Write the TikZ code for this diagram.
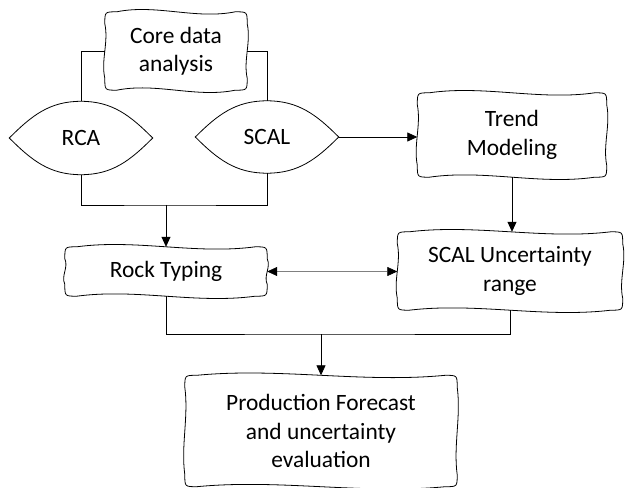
\documentclass[tikz,border=0pt]{standalone}
\usepackage{fontspec}
\setmainfont{Carlito}
\usetikzlibrary{arrows.meta,calc}
\newcommand\wavyframe[1]{%
\draw[wavy] let \p1=(#1.south west),\p2=(#1.north east),\n1={\x2-\x1-24pt},\n2={\y2-\y1-24pt} in
 ({\x1+12pt},\y2) .. controls ({\x1+12pt+\n1/3},{\y2+8pt}) and ({\x1+12pt+2*\n1/3},{\y2-8pt}) .. ({\x2-12pt},\y2)
 .. controls (\x2,\y2) .. (\x2,{\y2-12pt})
 .. controls ({\x2+4pt},{\y2-12pt-\n2/3}) and ({\x2-4pt},{\y2-12pt-2*\n2/3}) .. (\x2,{\y1+12pt})
 .. controls (\x2,\y1) .. ({\x2-12pt},\y1)
 .. controls ({\x2-12pt-\n1/3},{\y1-8pt}) and ({\x2-12pt-2*\n1/3},{\y1+8pt}) .. ({\x1+12pt},\y1)
 .. controls (\x1,\y1) .. (\x1,{\y1+12pt})
 .. controls ({\x1-4pt},{\y1+12pt+\n2/3}) and ({\x1+4pt},{\y1+12pt+2*\n2/3}) .. (\x1,{\y2-12pt})
 .. controls (\x1,\y2) .. ({\x1+12pt},\y2) -- cycle;}
\newcommand\lensframe[1]{%
\draw[wavy] (#1.west) to[out=45,in=180] (#1.north) to[out=0,in=135] (#1.east)
  to[out=-135,in=0] (#1.south) to[out=180,in=-45] (#1.west) -- cycle;}
\begin{document}
\begin{tikzpicture}[x=1bp,y=-1bp,
  box/.style={draw=none,rectangle,inner sep=0pt,align=center,font=\fontsize{23.5}{28.5}\selectfont},
  arr/.style={-{Triangle[length=10bp,width=9bp]}},
  conn/.style={line width=0.8bp,black},
  wavy/.style={line width=0.8bp,black}]
\useasboundingbox (0,0) rectangle (625,488);
\node[box,minimum width=142bp,minimum height=78bp] (core) at (176,51) {Core data\\analysis};
\node[box,minimum width=143bp,minimum height=73bp] (rca) at (81,138) {RCA};
\node[box,minimum width=143bp,minimum height=72bp] (scal) at (267,137) {SCAL};
\node[box,minimum width=189bp,minimum height=84bp] (trend) at (512,135) {Trend\\Modeling};
\node[box,minimum width=225bp,minimum height=78bp] (scalu) at (510,271) {SCAL Uncertainty\\range};
\node[box,minimum width=202bp,minimum height=49bp] (rock) at (166,271.5) {Rock Typing};
\node[box,minimum width=272bp,minimum height=111bp] (prod) at (321,431) {Production Forecast\\and uncertainty\\evaluation};
\wavyframe{core}
\wavyframe{trend}
\wavyframe{scalu}
\wavyframe{rock}
\wavyframe{prod}
\lensframe{rca}
\lensframe{scal}
\coordinate (j1) at (166,205);
\coordinate (j2) at (321,334);
\draw[conn] (core.west) -| (rca.north);
\draw[conn] (core.east) -| (scal.north);
\draw[conn] (rca.south) |- (j1) -| (scal.south);
\draw[conn,arr] (j1) -- (rock.north);
\draw[conn,arr] (scal.east) -- (scal.east -| trend.west);
\draw[conn,arr] (trend.south) -- (trend.south |- scalu.north);
\draw[line width=0.6bp,draw=gray,{Triangle[length=10bp,width=9bp,color=black]}-{Triangle[length=10bp,width=9bp,color=black]}] (rock.east) -- (rock.east -| scalu.west);
\draw[conn] (rock.south) |- (j2) -| (scalu.south);
\draw[conn,arr] (j2) -- (prod.north);
\end{tikzpicture}
\end{document}
